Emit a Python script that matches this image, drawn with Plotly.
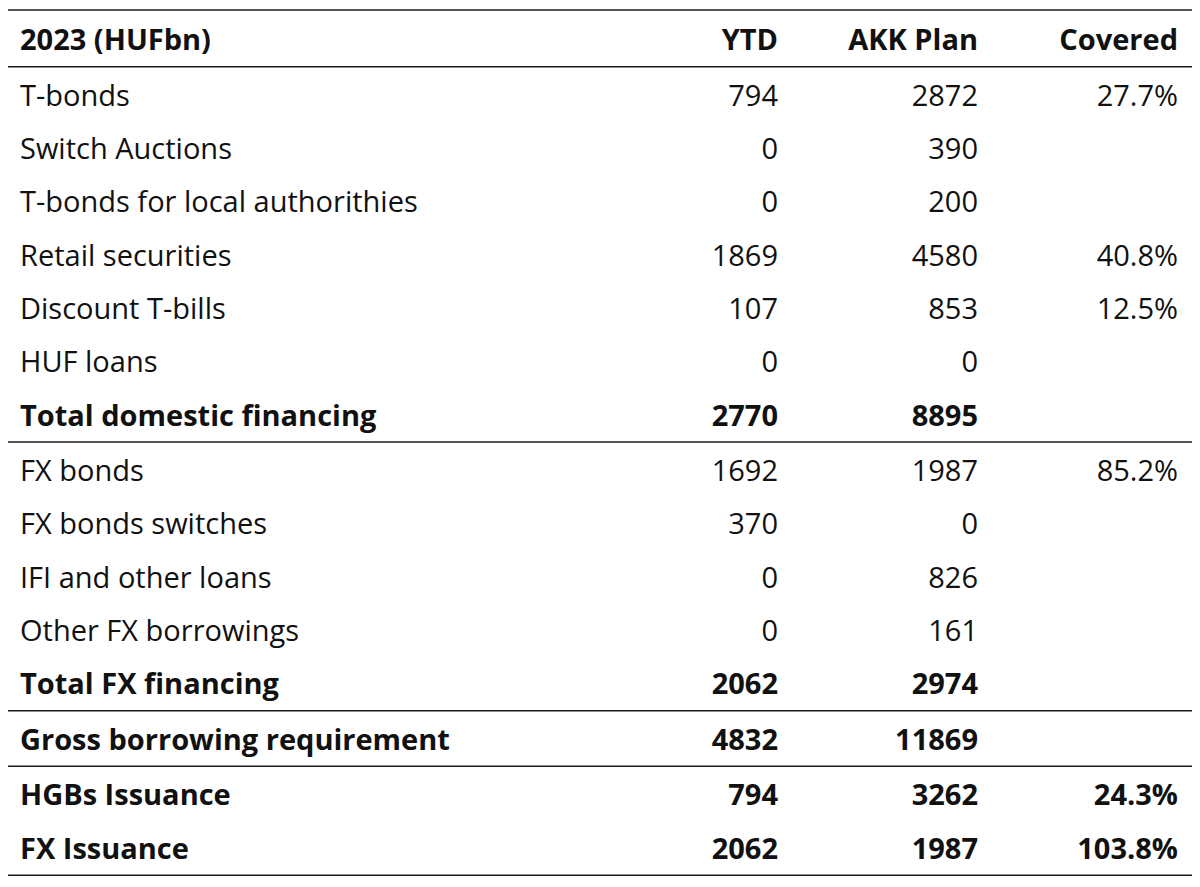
import plotly.graph_objects as go

# Table content
header = ["2023 (HUFbn)", "YTD", "AKK Plan", "Covered"]
labels = ["T-bonds", "Switch Auctions", "T-bonds for local authorithies", "Retail securities",
          "Discount T-bills", "HUF loans", "Total domestic financing",
          "FX bonds", "FX bonds switches", "IFI and other loans", "Other FX borrowings",
          "Total FX financing", "Gross borrowing requirement", "HGBs Issuance", "FX Issuance"]
ytd = [794, 0, 0, 1869, 107, 0, 2770, 1692, 370, 0, 0, 2062, 4832, 794, 2062]
plan = [2872, 390, 200, 4580, 853, 0, 8895, 1987, 0, 826, 161, 2974, 11869, 3262, 1987]
covered = [27.7, None, None, 40.8, 12.5, None, None, 85.2, None, None, None, None, None, 24.3, 103.8]
bold_rows = {6, 11, 12, 13, 14}
section_ends = [6, 11, 12]   # a rule is drawn under these rows

ROW_H = 53.3
SEP = 2.2
OFF = 8       # page body margin
TXT_DY = 3    # optical shift of text inside a row
FONT = dict(family="'Open Sans', sans-serif", size=29, color="#111")


def row_y(i):
    # i = 0 is the header; data rows start at 1
    seps = (1 if i >= 1 else 0) + sum(1 for s in section_ends if i > s + 1)
    return 40 + ROW_H * i + SEP * seps


def fmt(v, i, pct=False):
    if v is None:
        return ""
    s = f"{v:.1f}%" if pct else str(v)
    return f"<b>{s}</b>" if i in bold_rows else s


ys = [row_y(0) + TXT_DY] + [row_y(i + 1) + TXT_DY for i in range(len(labels))]
col_text = [
    [f"<b>{header[0]}</b>"] + [f"<b>{l}</b>" if i in bold_rows else l for i, l in enumerate(labels)],
    [f"<b>{header[1]}</b>"] + [fmt(v, i) for i, v in enumerate(ytd)],
    [f"<b>{header[2]}</b>"] + [fmt(v, i) for i, v in enumerate(plan)],
    [f"<b>{header[3]}</b>"] + [fmt(v, i, True) for i, v in enumerate(covered)],
]
col_x = [20, 778, 978, 1178]
col_pos = ["middle right", "middle left", "middle left", "middle left"]

fig = go.Figure()
for xs, txt, pos in zip(col_x, col_text, col_pos):
    fig.add_trace(go.Scatter(x=[xs] * len(ys), y=ys, text=txt, mode="text",
                             textposition=pos, textfont=FONT, hoverinfo="skip",
                             showlegend=False, cliponaxis=False))

# horizontal rules: top, under header, under each section, bottom
rules = [row_y(0) - 30, (row_y(0) + row_y(1)) / 2 - 1]
rules += [(row_y(s + 1) + row_y(s + 2)) / 2 - 1 for s in section_ends]
rules.append(row_y(len(labels)) + 27)
for r in rules:
    fig.add_shape(type="line", x0=0, x1=1, y0=r, y1=r, xref="paper", yref="y",
                  line=dict(color="#1a1a1a", width=1.5))

fig.update_layout(
    width=1200, height=887,
    margin=dict(l=0, r=0, t=0, b=0),
    paper_bgcolor="white", plot_bgcolor="white",
    xaxis=dict(range=[OFF, 1200 + OFF], visible=False, fixedrange=True),
    yaxis=dict(range=[887 + OFF, OFF], visible=False, fixedrange=True),
)
fig.write_html("out.html")
